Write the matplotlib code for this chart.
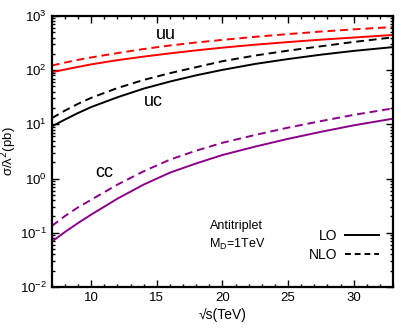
import matplotlib
matplotlib.use('Agg')
import matplotlib.pyplot as plt
from matplotlib.ticker import MultipleLocator, LogLocator, NullFormatter

plt.rcParams['font.family'] = ['Liberation Sans', 'DejaVu Sans']

# sqrt(s) in TeV
sqrt_s = [7, 8, 9, 10, 12, 14, 16, 18, 20, 22.5, 25, 27.5, 30, 33]

# sigma / lambda^2 (pb)
uu_lo = [91.4, 102.8, 114.8, 127.9, 153.1, 177.8, 204.2, 231.7, 260.0, 295.1, 329.6, 364.8, 399.9, 445.7]
uu_nlo = [121.6, 138.0, 154.9, 171.8, 206.5, 245.5, 285.1, 323.6, 361.4, 412.1, 462.4, 515.2, 564.9, 623.7]
uc_lo = [9.16, 12.30, 16.22, 20.89, 31.62, 45.71, 61.66, 80.35, 101.2, 130.3, 160.3, 192.8, 226.5, 266.1]
uc_nlo = [13.03, 17.99, 23.99, 30.90, 46.77, 66.07, 88.10, 113.5, 146.2, 186.2, 229.1, 275.4, 331.1, 402.7]
cc_lo = [0.0685, 0.1038, 0.1517, 0.2168, 0.4266, 0.7762, 1.288, 1.905, 2.723, 3.890, 5.408, 7.278, 9.594, 12.74]
cc_nlo = [0.1337, 0.2042, 0.2951, 0.4074, 0.7762, 1.365, 2.239, 3.273, 4.571, 6.383, 8.710, 11.48, 14.96, 19.72]

purple = '#8b008b'
lw = 1.4
dash = (0, (4, 2.5))

fig = plt.figure(figsize=(4.15, 3.32), dpi=100)
ax = fig.add_axes([0.125, 0.1355, 0.822, 0.8165])

ax.plot(sqrt_s, uu_lo, color='red', lw=lw)
ax.plot(sqrt_s, uu_nlo, color='red', lw=lw, ls=dash)
ax.plot(sqrt_s, uc_lo, color='black', lw=lw)
ax.plot(sqrt_s, uc_nlo, color='black', lw=lw, ls=dash)
ax.plot(sqrt_s, cc_lo, color=purple, lw=lw)
ax.plot(sqrt_s, cc_nlo, color=purple, lw=lw, ls=dash)

ax.set_yscale('log')
ax.set_xlim(7, 33)
ax.set_ylim(1e-2, 1e3)

ax.xaxis.set_major_locator(MultipleLocator(5))
ax.xaxis.set_minor_locator(MultipleLocator(1))
ax.yaxis.set_major_locator(LogLocator(base=10, numticks=10))
ax.yaxis.set_minor_locator(LogLocator(base=10, subs=range(2, 10), numticks=20))
ax.yaxis.set_minor_formatter(NullFormatter())

ax.tick_params(which='both', direction='in', top=True, right=True, labelsize=9.5, width=1)
ax.tick_params(which='major', length=5)
ax.tick_params(which='minor', length=2.5)
for sp in ax.spines.values():
    sp.set_linewidth(1.6)

ax.set_xlabel('√s(TeV)', fontsize=10, labelpad=3)
ax.set_ylabel('σ/λ$^2$(pb)', fontsize=9.5, labelpad=0)
ax.yaxis.set_label_coords(-0.095, 0.5)

ax.text(15.7, 447, 'uu', fontsize=13, ha='center', va='center')
ax.text(14.7, 26, 'uc', fontsize=13, ha='center', va='center')
ax.text(11.0, 1.3, 'cc', fontsize=13, ha='center', va='center')

ax.text(21.1, 0.133, 'Antitriplet', fontsize=9, ha='center', va='center')
ax.text(21.1, 0.06, 'M$_\\mathregular{D}$=1TeV', fontsize=9, ha='center', va='center')

# legend drawn in gnuplot style: key text on the left, sample on the right
ax.plot([], [], color='black', lw=lw, label='LO')
ax.plot([], [], color='black', lw=lw, ls=(0, (3, 2)), label='NLO')
leg = ax.legend(loc='lower right', bbox_to_anchor=(0.995, 0.045), frameon=False,
                fontsize=10, markerfirst=False, handlelength=2.4,
                labelspacing=0.4, handletextpad=0.6)
for t in leg.get_texts():
    t.set_ha('right')

fig.savefig('out.png', dpi=100)
